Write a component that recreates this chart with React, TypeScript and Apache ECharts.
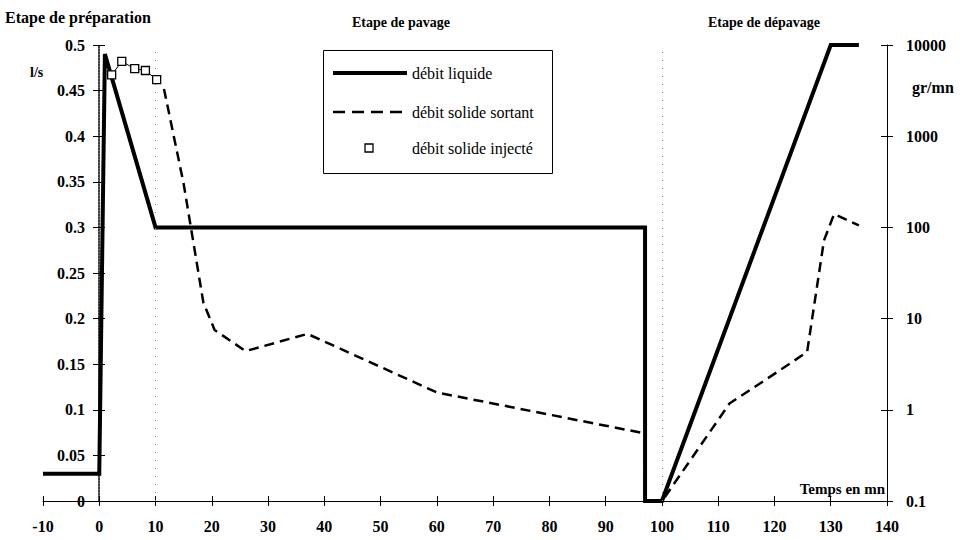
import React, { useEffect, useRef } from "react";
import * as echarts from "echarts";

// Time axis ticks (min)
const timeMin = -10;
const timeMax = 140;
const timeStep = 10;

// débit liquide (l/s), left axis
const liquidTime = [-10, 0, 1, 10, 97, 97, 100, 130, 135];
const liquidFlow = [0.03, 0.03, 0.49, 0.3, 0.3, 0, 0, 0.5, 0.5];

// débit solide sortant (gr/mn), right log axis (null = break)
const outTime = [11.5, 15, 18.5, 20.5, 26, 37, 60, 97, 98.5, 100.5, 112, 120.5, 125.8, 128.8, 130.6, 135];
const outFlow = [3300, 300, 15, 7.5, 4.4, 6.8, 1.55, 0.55, null, 0.11, 1.17, 2.6, 4.3, 72, 140, 105];

// débit solide injecté (gr/mn), right log axis
const injTime = [2.2, 4.0, 6.3, 8.2, 10.2];
const injFlow = [4700, 6600, 5500, 5250, 4170];

// Phase separators
const phaseLines = [10, 100];

const FONT = "Liberation Serif";
const GRID_LEFT = 43;
const GRID_RIGHT = 89;
const PLOT_W = 976 - GRID_LEFT - GRID_RIGHT;
const Y_AXIS_OFFSET = -Math.round(((0 - timeMin) / (timeMax - timeMin)) * PLOT_W);

export default function App() {
  const ref = useRef<HTMLDivElement>(null);
  useEffect(() => {
    if (!ref.current) return;
    const chart = echarts.init(ref.current, null, { renderer: "svg" });
    const zip = (a: number[], b: (number | null)[]) => a.map((x, i) => [x, b[i] === null ? null : b[i]]);
    const labelStyle = { color: "#000", fontFamily: FONT, fontSize: 16, fontWeight: "bold" as const };
    const txt = (text: string, x: number, y: number, extra: any = {}) => ({
      type: "text",
      x,
      y,
      style: {
        text,
        fill: "#000",
        fontFamily: FONT,
        fontSize: extra.size || 14,
        fontWeight: extra.weight || "bold",
        textVerticalAlign: "middle",
        textAlign: extra.align || "left",
      },
    });
    const fmtLin = (v: number) => String(+Number(v).toFixed(2));
    const fmtLog = (v: number) => String(+Number(v).toPrecision(6));
    chart.setOption({
      animation: false,
      backgroundColor: "#fff",
      textStyle: { fontFamily: FONT },
      grid: { left: GRID_LEFT, right: GRID_RIGHT, top: 45, bottom: 39 },
      xAxis: [
        {
          type: "value", min: timeMin, max: timeMax, interval: timeStep, position: "bottom",
          axisLine: { show: true, onZero: false, lineStyle: { color: "#000", width: 1 } },
          axisTick: { show: true, length: 5, lineStyle: { color: "#000" } },
          axisLabel: { ...labelStyle, margin: 17 },
          splitLine: { show: false },
        },
        {
          type: "value", min: timeMin, max: timeMax, interval: timeStep, position: "bottom",
          axisLine: { show: false, onZero: false },
          axisTick: { show: true, inside: true, length: 5, lineStyle: { color: "#000" } },
          axisLabel: { show: false },
          splitLine: { show: false },
        },
      ],
      yAxis: [
        {
          type: "value", min: 0, max: 0.5, interval: 0.05, position: "left", offset: Y_AXIS_OFFSET,
          axisLine: { show: true, onZero: false, lineStyle: { color: "#000", width: 1.5, type: [2, 1] } },
          axisTick: { show: true, length: 6, lineStyle: { color: "#000" } },
          axisLabel: { ...labelStyle, margin: 14, formatter: fmtLin },
          splitLine: { show: false },
        },
        {
          type: "log", logBase: 10, min: 0.1, max: 10000, position: "right",
          axisLine: { show: true, onZero: false, lineStyle: { color: "#000", width: 1 } },
          axisTick: { show: true, length: 6, lineStyle: { color: "#000" } },
          axisLabel: { ...labelStyle, margin: 19, formatter: fmtLog },
          splitLine: { show: false },
          minorTick: { show: false },
        },
        {
          type: "value", min: 0, max: 0.5, interval: 0.05, position: "left", offset: Y_AXIS_OFFSET,
          axisLine: { show: false, onZero: false },
          axisTick: { show: true, inside: true, length: 6, lineStyle: { color: "#000" } },
          axisLabel: { show: false },
          splitLine: { show: false },
        },
        {
          type: "log", logBase: 10, min: 0.1, max: 10000, position: "right",
          axisLine: { show: false, onZero: false },
          axisTick: { show: true, inside: true, length: 6, lineStyle: { color: "#000" } },
          axisLabel: { show: false },
          splitLine: { show: false },
        },
      ],
      series: [
        {
          name: "débit liquide",
          type: "line",
          xAxisIndex: 0,
          yAxisIndex: 0,
          data: zip(liquidTime, liquidFlow),
          symbol: "none",
          lineStyle: { color: "#000", width: 4, join: "miter" },
          z: 3,
          markLine: {
            silent: true,
            symbol: "none",
            label: { show: false },
            lineStyle: { color: "#777", width: 1, type: [1, 7] },
            data: phaseLines.map((x) => ({ xAxis: x })),
          },
        },
        {
          name: "débit solide sortant",
          type: "line",
          xAxisIndex: 0,
          yAxisIndex: 1,
          data: zip(outTime, outFlow),
          symbol: "none",
          connectNulls: false,
          lineStyle: { color: "#000", width: 2.5, type: [10, 6] },
          z: 4,
        },
        {
          name: "débit solide injecté",
          type: "line",
          xAxisIndex: 0,
          yAxisIndex: 1,
          data: zip(injTime, injFlow),
          symbol: "rect",
          symbolSize: 8,
          showAllSymbol: true,
          itemStyle: { color: "#fff", borderColor: "#000", borderWidth: 1.3 },
          lineStyle: { color: "#000", width: 1 },
          z: 5,
        },
      ],
      graphic: [
        txt("Etape de préparation", 5, 17, { size: 16 }),
        txt("Etape de pavage", 401, 22, { align: "center" }),
        txt("Etape de dépavage", 764, 22, { align: "center" }),
        txt("l/s", 30, 72),
        txt("gr/mn", 912, 87, { size: 16 }),
        txt("Temps en mn", 885, 489, { align: "right", size: 15 }),
        {
          type: "rect",
          shape: { x: 323.5, y: 50.5, width: 229, height: 123 },
          style: { fill: "#fff", stroke: "#000", lineWidth: 1 },
          z: 10,
        },
        {
          type: "line",
          shape: { x1: 333, y1: 73, x2: 407, y2: 73 },
          style: { stroke: "#000", lineWidth: 4 },
          z: 11,
        },
        {
          type: "line",
          shape: { x1: 333, y1: 112, x2: 404, y2: 112 },
          style: { stroke: "#000", lineWidth: 2.5, lineDash: [12, 7] },
          z: 11,
        },
        {
          type: "rect",
          shape: { x: 365, y: 144, width: 8, height: 8 },
          style: { fill: "#fff", stroke: "#000", lineWidth: 1.3 },
          z: 11,
        },
        { ...txt("débit liquide", 412, 73, { weight: "normal", size: 16 }), z: 11 },
        { ...txt("débit solide sortant", 412, 112, { weight: "normal", size: 16 }), z: 11 },
        { ...txt("débit solide injecté", 412, 148, { weight: "normal", size: 16 }), z: 11 },
      ],
    });
    return () => chart.dispose();
  }, []);
  return (
    <div
      ref={ref}
      style={{ position: "fixed", left: 0, top: 0, width: 976, height: 540, background: "#fff" }}
    />
  );
}
